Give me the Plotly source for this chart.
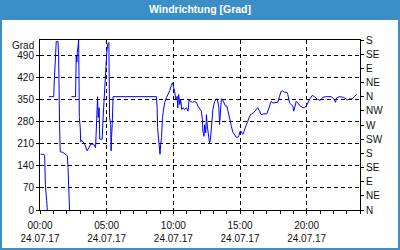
import plotly.graph_objects as go

DAY = "2017-07-24"
times = ["00:03","00:18","00:21","00:24","00:30","00:33","00:36",
 "00:40","01:02","01:03","01:06","01:11","01:13","01:21","01:24","01:28","01:31","01:43","02:03","02:06","02:13","02:17",
 "02:21","02:40","02:43","02:46","02:48","02:54","02:57","03:01","03:03","03:09","03:21","03:32","03:40","03:48","04:01","04:10",
 "04:15","04:19","04:22","04:26","04:29","04:40","04:43","04:51","04:56","05:01","05:05","05:10","05:11","05:13","05:18","05:20",
 "05:22","05:25","05:27","05:29","08:44","08:47","08:49","08:55","08:58","09:00","09:03","09:07","09:11","09:15","09:21","09:29",
 "09:36","09:44","09:51","09:56","10:02","10:06","10:11","10:17","10:20","10:24","10:29","10:33","10:38","10:44","10:51","10:59",
 "11:06","11:11","11:17","11:26","11:36","11:44","11:51","11:59","12:06","12:11","12:13","12:18","12:21","12:26","12:29","12:33",
 "12:39","12:43","12:47","12:51","12:56","12:58","13:06","13:14","13:18","13:25","13:28","13:33","13:36","13:41","13:46","13:55",
 "14:01","14:07","14:13","14:21","14:28","14:36","14:43","14:51","14:55","15:00","15:06","15:10","15:13","15:18","15:25","15:35",
 "15:43","15:51","16:01","16:13","16:20","16:28","16:35","16:46","17:01","17:13","17:20","17:28","17:40","17:50","17:58","18:05",
 "18:10","18:20","18:31","18:35","18:43","18:50","18:58","19:02","19:13","19:20","19:31","19:43","19:50","19:58","20:05","20:13",
 "20:25","20:35","20:50","21:01","21:13","21:28","21:50","22:02","22:10","22:15","22:27","22:45","22:57","23:05","23:12","23:25",
 "23:35","23:45"]
values = [177,177,173,81,30,0,None,
 360,360,389,445,506,535,535,485,272,185,183,172,135,0,None,
 360,360,490,470,500,540,294,262,217,221,209,188,198,209,209,198,
 283,360,294,325,225,225,281,389,447,506,527,532,442,294,272,188,
 230,272,320,360,360,325,262,217,209,177,209,230,294,320,341,357,
 368,379,396,404,388,377,351,361,325,367,335,351,319,325,319,325,
 314,351,345,342,345,342,330,321,314,287,250,234,271,245,303,266,
 234,213,224,266,298,319,345,353,351,325,271,319,353,351,345,330,
 330,309,287,266,247,236,231,231,236,250,250,243,240,250,266,282,
 298,305,309,321,325,314,303,305,306,330,345,340,340,342,361,377,
 379,374,374,367,340,335,330,314,345,340,330,325,325,330,342,351,
 364,360,351,348,358,360,360,353,342,356,360,358,353,349,353,353,
 361,367]

left_ticks = [0,70,140,210,280,350,420,490]
right_tickvals = [0,45,90,135,180,225,270,315,360,405,450,495,540]
right_ticktext = ["N","NE","E","SE","S","SW","W","NW","N","NE","E","SE","S"]
x_tick_times = ["00:00","05:00","10:00","15:00","20:00"]
x_tick_date = "24.07.17"

BLUE = "#3b8fc6"
FONT = "Liberation Sans"
TXT = "#111111"

x = [DAY + " " + t for t in times]

fig = go.Figure()
fig.add_trace(go.Scatter(x=x, y=values, mode="lines", line=dict(color="#0000ff", width=1),
                         connectgaps=False, showlegend=False, hoverinfo="skip"))
fig.add_trace(go.Scatter(x=[], y=[], yaxis="y2", showlegend=False))

fig.update_layout(
    width=400, height=250,
    margin=dict(l=40, r=40, t=40, b=40, autoexpand=False),
    paper_bgcolor=BLUE, plot_bgcolor="white",
    font=dict(family=FONT, size=10, color=TXT),
    title=dict(text="Windrichtung [Grad]", x=0.5, xanchor="center", y=1 - 9/250, yanchor="middle",
               font=dict(family=FONT, size=10.5, color="white", weight="bold")),
    xaxis=dict(type="date", range=[DAY + " 00:00", "2017-07-25 00:00"], automargin=False,
               tickvals=[DAY + " " + t for t in x_tick_times],
               ticktext=[t + "<br>" + x_tick_date for t in x_tick_times],
               ticks="outside", ticklen=3, tickcolor="black", ticklabelstandoff=3,
               minor=dict(dtick=3600000, ticks="outside", ticklen=3, tickcolor="black", showgrid=False),
               showgrid=True, gridcolor="black", gridwidth=1, griddash="4px,3px",
               showline=True, linecolor="black", linewidth=1, mirror=True, zeroline=False,
               tickfont=dict(size=10)),
    yaxis=dict(range=[0, 540], tickvals=left_ticks, ticks="outside", ticklen=3, tickcolor="black",
               automargin=False,
               showgrid=True, gridcolor="black", gridwidth=1, griddash="4px,3px",
               showline=True, linecolor="black", linewidth=1, zeroline=False, tickfont=dict(size=10)),
    yaxis2=dict(overlaying="y", side="right", anchor="x", range=[0, 540], automargin=False,
                tickvals=right_tickvals, ticktext=right_ticktext,
                ticks="outside", ticklen=3, tickcolor="black", showgrid=False,
                showline=True, linecolor="black", linewidth=1, zeroline=False, tickfont=dict(size=10)),
    shapes=[dict(type="rect", xref="paper", yref="paper", layer="below",
                 x0=(2-40)/320, x1=(398-40)/320, y0=(210-248)/170, y1=(210-20)/170,
                 fillcolor="white", line=dict(width=0))],
    annotations=[dict(text="Grad", xref="paper", yref="paper", x=(36-40)/320, y=(210-45)/170,
                      xanchor="right", yanchor="middle", showarrow=False, font=dict(size=10, color=TXT))],
)

fig.write_html("out.html")
